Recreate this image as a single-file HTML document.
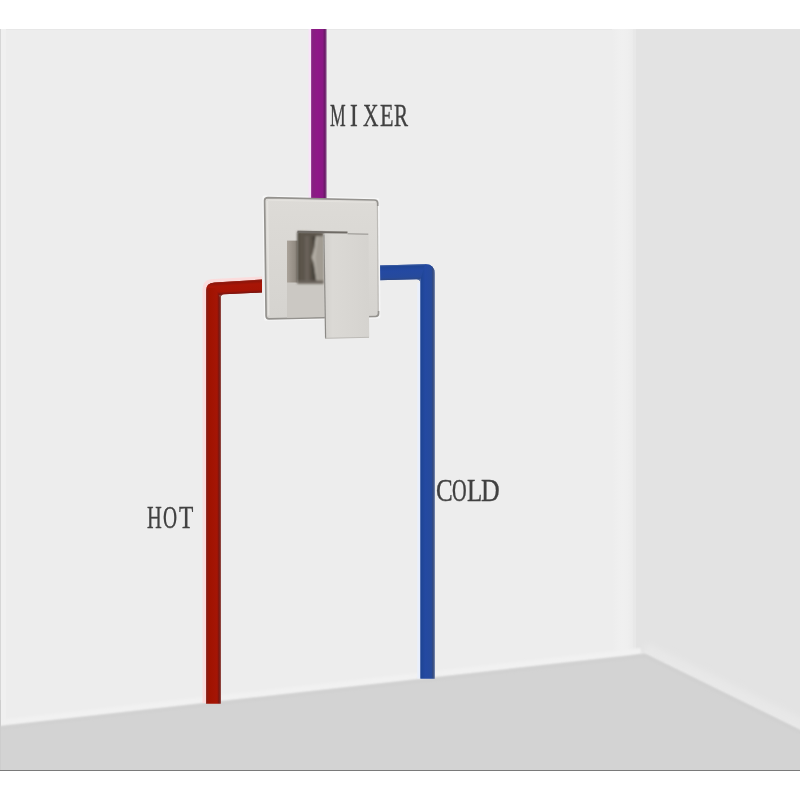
<!DOCTYPE html>
<html>
<head>
<meta charset="utf-8">
<style>
html,body{margin:0;padding:0;background:#fff;}
body{width:800px;height:800px;overflow:hidden;position:relative;}
svg{position:absolute;left:0;top:0;}
.t{position:absolute;font-family:"Liberation Serif",serif;color:#404040;-webkit-text-stroke:0.35px #404040;filter:blur(0.3px);font-size:32.5px;line-height:1;white-space:nowrap;transform-origin:0 0;}
</style>
</head>
<body>
<svg width="800" height="800" viewBox="0 0 800 800">
  <defs>
    <filter id="soft05" x="-10%" y="-10%" width="120%" height="120%"><feGaussianBlur stdDeviation="0.8"/></filter>
    <filter id="soft" x="-5%" y="-5%" width="110%" height="110%"><feGaussianBlur stdDeviation="1"/></filter>
    <filter id="soft2" x="-10%" y="-10%" width="120%" height="120%"><feGaussianBlur stdDeviation="3"/></filter>
    <linearGradient id="cornerL" x1="612" x2="636" y1="0" y2="0" gradientUnits="userSpaceOnUse">
      <stop offset="0" stop-color="#ededed"/>
      <stop offset="0.4" stop-color="#f0f0f0"/>
      <stop offset="0.65" stop-color="#efefef"/>
      <stop offset="0.9" stop-color="#ebebeb"/>
      <stop offset="1" stop-color="#e8e8e8"/>
    </linearGradient>
    <linearGradient id="plateG" x1="0" x2="0" y1="0" y2="1">
      <stop offset="0" stop-color="#dddbd7"/>
      <stop offset="1" stop-color="#d5d3cf"/>
    </linearGradient>
    <linearGradient id="handleG" x1="0" x2="1" y1="0" y2="0">
      <stop offset="0" stop-color="#d2d0cc"/>
      <stop offset="0.2" stop-color="#dbd9d5"/>
      <stop offset="1" stop-color="#d5d3cf"/>
    </linearGradient>
    <linearGradient id="blockG" x1="297.5" x2="323.5" y1="0" y2="0" gradientUnits="userSpaceOnUse">
      <stop offset="0" stop-color="#716a62"/>
      <stop offset="0.2" stop-color="#5c554d"/>
      <stop offset="0.45" stop-color="#4f4841"/>
      <stop offset="0.62" stop-color="#6a635b"/>
      <stop offset="0.72" stop-color="#aaa59d"/>
      <stop offset="0.82" stop-color="#8e8880"/>
      <stop offset="1" stop-color="#9a958e"/>
    </linearGradient>
    <linearGradient id="shadowL" x1="0" x2="1" y1="0" y2="0">
      <stop offset="0" stop-color="#aaa39a"/>
      <stop offset="1" stop-color="#8a837a"/>
    </linearGradient>
    <linearGradient id="purpleG" x1="311" x2="326.6" y1="0" y2="0" gradientUnits="userSpaceOnUse">
      <stop offset="0" stop-color="#a04a9c"/>
      <stop offset="0.1" stop-color="#862080"/>
      <stop offset="0.4" stop-color="#8f1888"/>
      <stop offset="0.75" stop-color="#8a1884"/>
      <stop offset="0.88" stop-color="#6a1a68"/>
      <stop offset="1" stop-color="#8d5a8e"/>
    </linearGradient>
    <linearGradient id="redV" x1="205.5" x2="221" y1="0" y2="0" gradientUnits="userSpaceOnUse">
      <stop offset="0" stop-color="#a04a44"/>
      <stop offset="0.1" stop-color="#8b1a10"/>
      <stop offset="0.25" stop-color="#a01200"/>
      <stop offset="0.75" stop-color="#a51505"/>
      <stop offset="0.88" stop-color="#741510"/>
      <stop offset="1" stop-color="#8a5450"/>
    </linearGradient>
    <linearGradient id="blueV" x1="420" x2="435" y1="0" y2="0" gradientUnits="userSpaceOnUse">
      <stop offset="0" stop-color="#6a82b8"/>
      <stop offset="0.1" stop-color="#1f4595"/>
      <stop offset="0.35" stop-color="#2449a2"/>
      <stop offset="0.75" stop-color="#264a9c"/>
      <stop offset="0.88" stop-color="#34497a"/>
      <stop offset="1" stop-color="#8a98b4"/>
    </linearGradient>
    <linearGradient id="redH" x1="0" x2="0" y1="280" y2="294.5" gradientUnits="userSpaceOnUse" gradientTransform="rotate(-3.3 238 287)">
      <stop offset="0" stop-color="#9a3028"/>
      <stop offset="0.15" stop-color="#8e150a"/>
      <stop offset="0.35" stop-color="#a81506"/>
      <stop offset="0.75" stop-color="#a51405"/>
      <stop offset="0.92" stop-color="#7a1410"/>
      <stop offset="1" stop-color="#8a4a44"/>
    </linearGradient>
    <linearGradient id="blueH" x1="0" x2="0" y1="264.5" y2="280.5" gradientUnits="userSpaceOnUse" gradientTransform="rotate(-1.5 400 272)">
      <stop offset="0" stop-color="#4a68a8"/>
      <stop offset="0.12" stop-color="#1f4595"/>
      <stop offset="0.4" stop-color="#2449a2"/>
      <stop offset="0.8" stop-color="#264a9c"/>
      <stop offset="0.93" stop-color="#2c4886"/>
      <stop offset="1" stop-color="#6a7ea8"/>
    </linearGradient>
  </defs>
  <!-- main wall -->
  <rect x="0" y="29" width="800" height="741" fill="#ededed"/>
  <rect x="0" y="29" width="800" height="1" fill="#e7e7e7"/>
  <rect x="0" y="29" width="1" height="741" fill="#d6d6d6"/>
  <rect x="1" y="29" width="5" height="741" fill="#f0f0f0"/>
  <rect x="612" y="29" width="24" height="630" fill="url(#cornerL)"/>
  <!-- right wall -->
  <polygon points="635.5,29 810,29 810,740 645,660 636,660" fill="#e3e3e3"/>
  <rect x="633" y="29" width="3" height="630" fill="#e8e8e8"/>
  <!-- light band at base of wall -->
  <polyline points="-10,724 641,651" fill="none" stroke="#f1f1f1" stroke-width="6" filter="url(#soft)"/>
  <polyline points="645,652 820,737" fill="none" stroke="#e9e9e9" stroke-width="5" filter="url(#soft)"/>
  <polyline points="645,648 820,733" fill="none" stroke="#e8e8e8" stroke-width="10" filter="url(#soft2)"/>
  <!-- floor -->
  <polygon points="-10,728 645,654 820,740 820,780 -10,780" fill="#d3d3d3" filter="url(#soft)"/>
  <polyline points="-10,729 645,656 820,742" fill="none" stroke="#d0d0d0" stroke-width="3" filter="url(#soft)"/>
  <rect x="0" y="760" width="800" height="10" fill="#d3d3d3"/>
  <rect x="0" y="770" width="800" height="1" fill="#7a7a7a"/>
  <rect x="0" y="771" width="800" height="29" fill="#ffffff"/>
  <rect x="0" y="700" width="1" height="70" fill="#cdcdcd"/>

  <!-- red pipe -->
  <path d="M202.5,703 L202.5,290 Q202.5,279 213.5,279 L262,276.5 L262,280 L215,282.5 Q206.5,283 206,291 L206,703 Z" fill="#fbdcdc"/>
  <clipPath id="redClip"><path d="M206,703.5 L206,291 Q206,282.8 214.5,282.5 L262,279.5 L262,292.5 L224,294.3 Q220.8,294.5 220.8,297.5 L220.8,703.5 Z"/></clipPath>
  <g clip-path="url(#redClip)">
    <rect x="200" y="270" width="70" height="440" fill="#a31403"/>
    <polygon points="200,270 270,270 270,300 221,300 215,288 200,288" fill="url(#redH)"/>
    <polygon points="200,288 215,288 221,300 221,710 200,710" fill="url(#redV)"/>
  </g>
  <!-- blue pipe -->
  <clipPath id="blueClip"><path d="M378.5,265.5 L425,264.2 Q434.8,264 434.8,274 L434.8,678.5 L420.3,678.5 L420.3,283 Q420.3,279.3 416.5,279.3 L378.5,280.2 Z"/></clipPath>
  <rect x="417.3" y="283" width="3" height="395.5" fill="#e9effc"/>
  <g clip-path="url(#blueClip)">
    <rect x="370" y="255" width="70" height="430" fill="#2449a0"/>
    <polygon points="370,255 428,255 420,281 370,281" fill="url(#blueH)"/>
    <polygon points="428,255 440,255 440,685 420,685 420,281" fill="url(#blueV)"/>
  </g>

  <!-- plate -->
  <polygon points="264.5,197.5 377.5,200 378.5,316.5 266,318.8" fill="#f6f6f6" stroke="#f6f6f6" stroke-width="4" stroke-linejoin="round"/>
  <!-- purple pipe -->
  <rect x="308.5" y="29" width="2.5" height="170" fill="#f8e4f8"/>
  <rect x="311" y="29" width="15.6" height="171" fill="url(#purpleG)"/>

  <path d="M268,197.6 L374.5,200 Q377.6,200.1 377.7,203 L378.5,313.5 Q378.5,316.4 375.5,316.5 L269,318.8 Q266.2,318.8 266.1,316 L264.6,200.5 Q264.6,197.6 268,197.6 Z" fill="url(#plateG)"/>
  <path d="M377.7,206 L377.7,203 Q377.6,200.1 374.5,200 L268,197.6 Q264.6,197.6 264.6,200.5 L266.1,316 Q266.2,318.8 269,318.8 L375.5,316.5 Q378.5,316.4 378.5,313.5 L378.5,311" fill="none" stroke="#94928e" stroke-width="1.7"/>
  <path d="M377.4,206 L378.2,311" stroke="#bdbbb7" stroke-width="1.2" fill="none"/>
  <path d="M267.5,201 L268.8,315.5" stroke="#e4e2de" stroke-width="1.5" fill="none"/>
  <path d="M268,200.2 L375,202.5" stroke="#e4e2de" stroke-width="1.2" fill="none"/>

  <!-- shadow under handle on plate -->
  <polygon points="287,240.5 323.5,240.5 324,317 287,317.8" fill="#cbc8c3"/>
  <!-- left shadow block -->
  <polygon points="287,240.7 297.5,240.7 297.5,282.5 287,282.5" fill="url(#shadowL)"/>
  <!-- dark block -->
  <g filter="url(#soft05)">
  <polygon points="297.5,231.5 323.5,232.2 323.5,283.5 297.5,283.5" fill="#5c554c"/>
  <rect x="297.5" y="232" width="1.6" height="51" fill="#4a443d"/>
  <rect x="305" y="236" width="4" height="45" fill="#69625a"/>
  <polygon points="315.8,236 323.5,236.2 323.5,282 316.5,282 314,263 311.5,257.5 313.5,251.5" fill="#a29c93"/>
  <polygon points="315.8,237 318,237 315.5,257.5 317.5,281 316.5,281 314,263 312,257.5 313.8,251.5" fill="#b3aea5"/>
  <polygon points="312.3,236.5 315.6,236.5 314.2,249" fill="#3e3932"/>
  <polygon points="311.3,263 314,266 316.4,281.5 311.8,281.5" fill="#4a443c"/>
  <rect x="297.5" y="280.5" width="26" height="3" fill="#6a645c"/>
  </g>
  <!-- top cap line -->
  <polygon points="297.5,230.8 347.5,231.6 347.5,233.6 297.5,233" fill="#6f6b66"/>
  <polygon points="347.5,233 368.3,233.6 368.3,235 347.5,234.4" fill="#a9a7a3"/>
  <!-- handle front face -->
  <polygon points="323.3,234.3 368.5,235.3 369.2,337.5 325.2,338.6" fill="url(#handleG)"/>
  <line x1="323.9" y1="234.5" x2="325.6" y2="338.5" stroke="#8c8a86" stroke-width="1.2"/>
  <line x1="325" y1="338.3" x2="369" y2="337.3" stroke="#bdbbb7" stroke-width="1"/>
</svg>
<span class="t" style="left:329.79px;top:98.88px;transform:scaleX(0.541)">M</span>
<span class="t" style="left:349.76px;top:98.88px;transform:scaleX(0.717)">I</span>
<span class="t" style="left:362.53px;top:98.88px;transform:scaleX(0.659)">X</span>
<span class="t" style="left:379.76px;top:98.88px;transform:scaleX(0.682)">E</span>
<span class="t" style="left:393.89px;top:98.88px;transform:scaleX(0.648)">R</span>
<span class="t" style="left:147.41px;top:501.48px;transform:scaleX(0.630)">H</span>
<span class="t" style="left:163.10px;top:501.48px;transform:scaleX(0.601)">O</span>
<span class="t" style="left:179.28px;top:501.48px;transform:scaleX(0.721)">T</span>
<span class="t" style="left:436.07px;top:474.18px;transform:scaleX(0.771)">C</span>
<span class="t" style="left:452.47px;top:474.18px;transform:scaleX(0.625)">O</span>
<span class="t" style="left:466.98px;top:474.18px;transform:scaleX(0.766)">L</span>
<span class="t" style="left:480.95px;top:474.18px;transform:scaleX(0.796)">D</span>
</body>
</html>
